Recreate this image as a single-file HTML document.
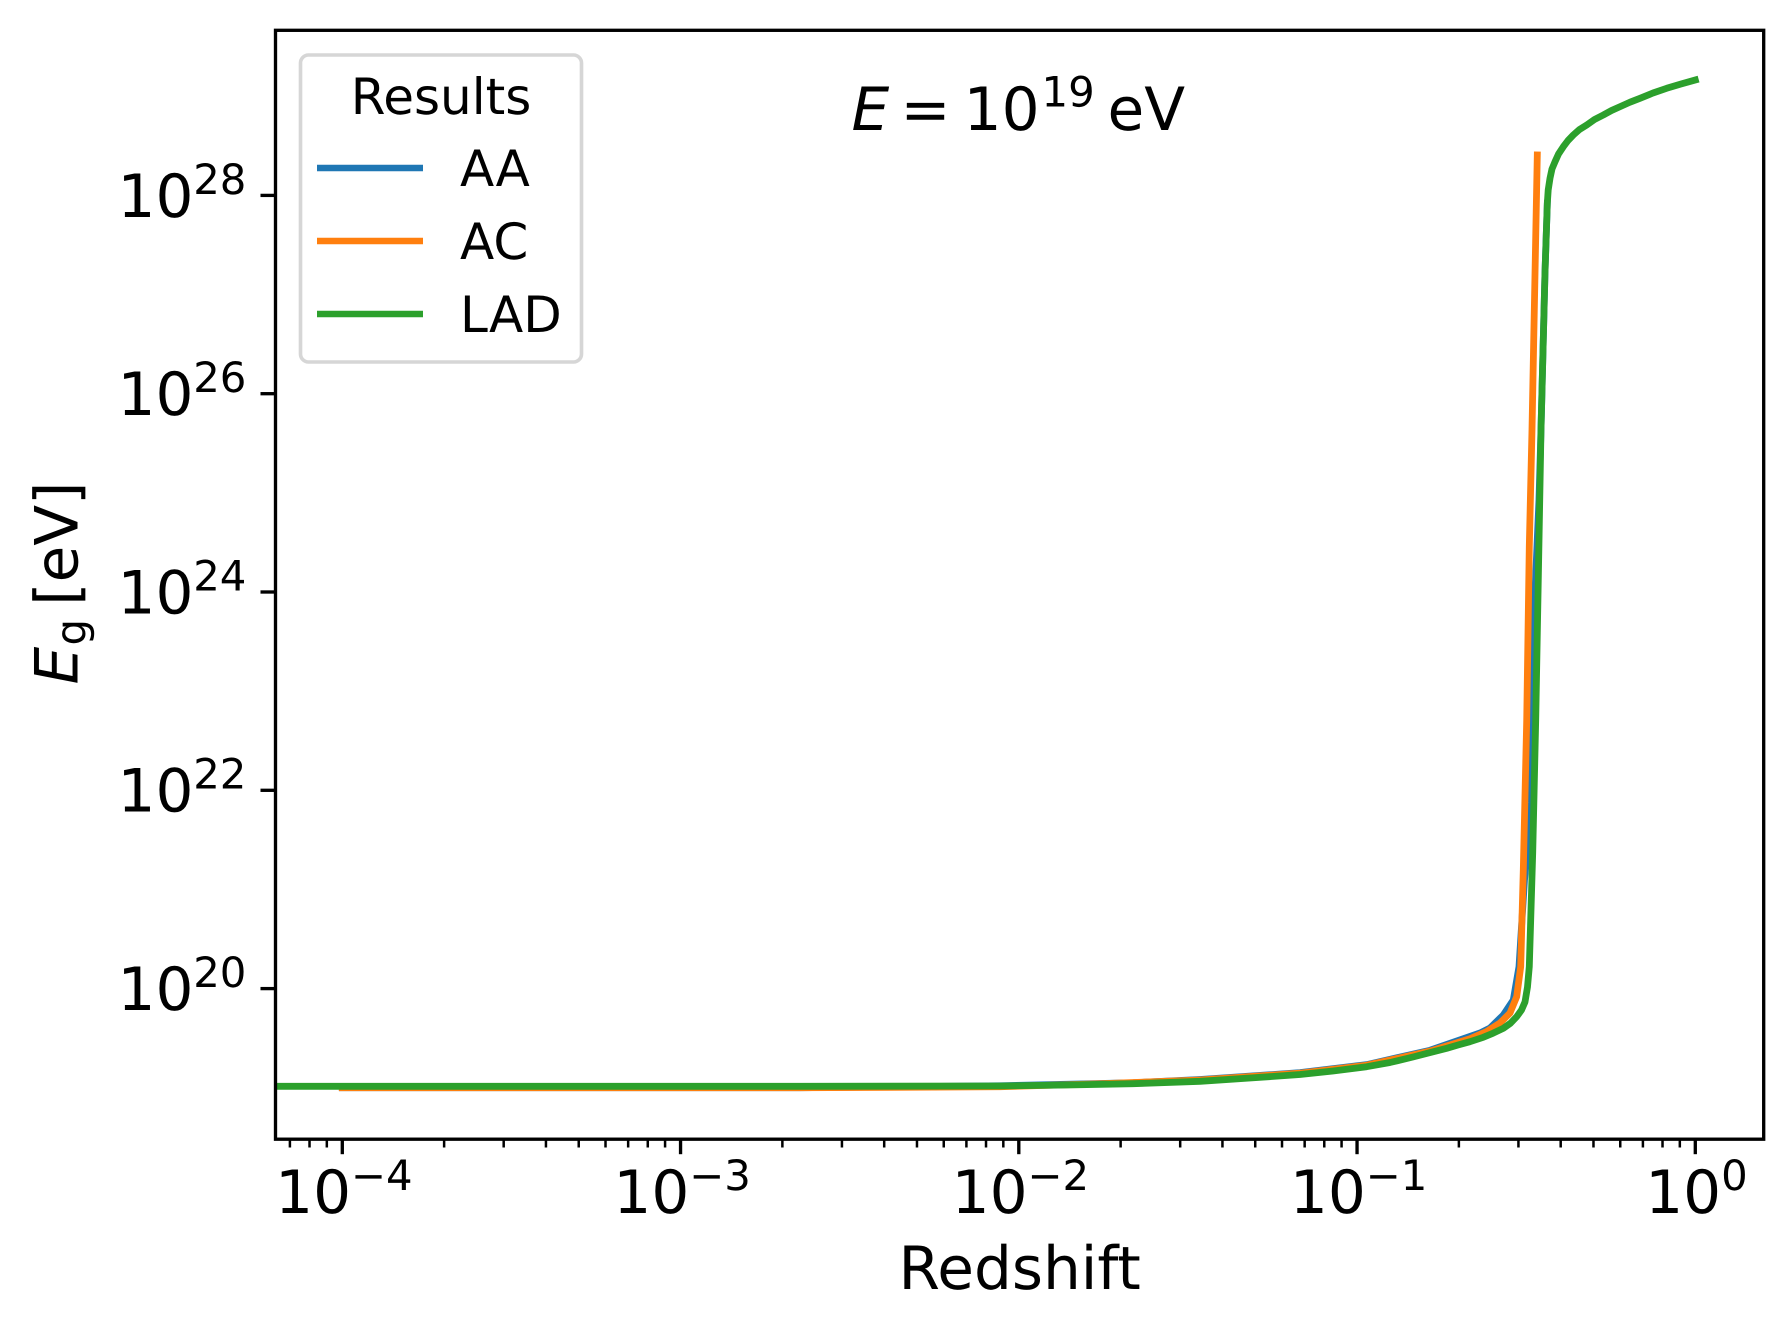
<!DOCTYPE html>
<html lang="en">
<head>
<meta charset="utf-8">
<title>Eg vs Redshift</title>
<style>
html,body{margin:0;padding:0;background:#fff;}
svg{display:block;}
text{font-family:"DejaVu Sans",sans-serif;fill:#000;text-rendering:geometricPrecision;}
</style>
</head>
<body>
<svg id="chart" xmlns="http://www.w3.org/2000/svg" width="1792" height="1333" viewBox="0 0 1792 1333">
<defs><clipPath id="axes-clip"><rect x="275.5" y="30.3" width="1488.2" height="1108.9"></rect></clipPath></defs>
<rect x="0" y="0" width="1792" height="1333" fill="#fff"></rect>
</svg>
<script>
// Data: log10(redshift) and log10(Eg / eV)
const seriesNames = ['AA', 'AC', 'LAD'];
const seriesColors = ['#1f77b4', '#ff7f0e', '#2ca02c'];

const aaLogZ = [-4, -2.6468, -2.0556, -1.6624, -1.4643, -1.1687, -0.9715, -0.7843, -0.6365, -0.6070, -0.5676, -0.5381, -0.5212, -0.5050, -0.4955, -0.4886, -0.4836, -0.4739, -0.4621, -0.4562, -0.4444, -0.4375];
const aaLogE = [19.0, 19.0, 19.02, 19.05, 19.083, 19.152, 19.233, 19.378, 19.5522, 19.6026, 19.7337, 19.885, 20.2209, 21.0953, 21.428, 21.8719, 22.709, 24.0, 24.928, 25.6339, 27.2174, 27.9203];

const acLogZ = [-4, -2.6468, -2.0556, -1.76, -1.4643, -1.1687, -0.9715, -0.7843, -0.6661, -0.6167, -0.5774, -0.5478, -0.5280, -0.5162, -0.5085, -0.4984, -0.4908, -0.4828, -0.4671];
const acLogE = [19.0, 19.0, 19.01, 19.04, 19.0782, 19.1467, 19.2275, 19.3697, 19.4947, 19.5673, 19.653, 19.7539, 19.9183, 20.2209, 21.1962, 22.709, 24.4569, 25.6339, 28.4075];

const ladLogZ = [-4.3, -3, -2.6468, -2.0556, -1.8575, -1.6624, -1.4643, -1.3165, -1.1687, -1.0711, -0.9715, -0.9026, -0.8346, -0.7843, -0.7350, -0.7016, -0.6661, -0.6267, -0.598, -0.5676, -0.5463, -0.5280, -0.5138, -0.5035, -0.4961, -0.4908, -0.4807, -0.4718, -0.4642, -0.4562, -0.4444, -0.4375, -0.4349, -0.4296, -0.4237, -0.4147, -0.4044, -0.3902, -0.3763, -0.3607, -0.3423, -0.3210, -0.2980, -0.2720, -0.2477, -0.2226, -0.1930, -0.1635, -0.1251, -0.0846, -0.0423, 0];
const ladLogE = [19.0146, 19.0146, 19.0146, 19.0177, 19.0277, 19.0408, 19.065, 19.0983, 19.1336, 19.1689, 19.2123, 19.2547, 19.3101, 19.3545, 19.3979, 19.4312, 19.4644, 19.5088, 19.5502, 19.5996, 19.651, 19.7166, 19.7842, 19.8649, 20.0161, 20.2209, 21.3676, 22.709, 24.1211, 25.6339, 27.2174, 27.9203, 28.0545, 28.1725, 28.2663, 28.3399, 28.4176, 28.4912, 28.5537, 28.6092, 28.6647, 28.71, 28.7655, 28.8109, 28.8563, 28.8946, 28.94, 28.9793, 29.0328, 29.0802, 29.1236, 29.1639];

const xTickExponents = [-4, -3, -2, -1, 0];
const yTickExponents = [20, 22, 24, 26, 28];
const minorMultipliers = [2, 3, 4, 5, 6, 7, 8, 9];
const minorDecades = [-5, -4, -3, -2, -1, 0];

const svg = document.getElementById('chart');
const NS = 'http://www.w3.org/2000/svg';
const axesLeft = 275.5, axesRight = 1763.7, axesTop = 30.3, axesBottom = 1139.2;

function xPos(logZ) { return 342.3 + 338.25 * (logZ + 4); }
function yPos(logE) { return 988.6 - 99.15 * (logE - 20); }

function addText(name, str, x, y, size, opts) {
  const el = document.createElementNS(NS, 'text');
  
  
  el.setAttribute('x', x);
  el.setAttribute('y', y);
  el.setAttribute('font-size', size);
  if (opts && opts.anchor) el.setAttribute('text-anchor', opts.anchor);
  if (opts && opts.italic) el.setAttribute('font-style', 'oblique');
  if (opts && opts.rotate) el.setAttribute('transform', 'rotate(-90 ' + x + ' ' + y + ')');
  el.textContent = str;
  svg.appendChild(el);
  return el;
}

function addLine(name, x1, y1, x2, y2, color, width) {
  const el = document.createElementNS(NS, 'line');
  
  
  el.setAttribute('x1', x1);
  el.setAttribute('y1', y1);
  el.setAttribute('x2', x2);
  el.setAttribute('y2', y2);
  el.setAttribute('stroke', color);
  el.setAttribute('stroke-width', width);
  svg.appendChild(el);
  return el;
}

function addSeries(name, xs, ys, color) {
  const el = document.createElementNS(NS, 'polyline');
  
  
  el.setAttribute('points', xs.map(function (v, i) { return xPos(v).toFixed(2) + ',' + yPos(ys[i]).toFixed(2); }).join(' '));
  el.setAttribute('fill', 'none');
  el.setAttribute('stroke', color);
  el.setAttribute('stroke-width', 6.8);
  el.setAttribute('stroke-linejoin', 'round');
  el.setAttribute('stroke-linecap', 'square');
  el.setAttribute('clip-path', 'url(#axes-clip)');
  svg.appendChild(el);
  return el;
}

// Series lines
addSeries('series-aa-line', aaLogZ, aaLogE, seriesColors[0]);
addSeries('series-ac-line', acLogZ, acLogE, seriesColors[1]);
addSeries('series-lad-line', ladLogZ, ladLogE, seriesColors[2]);

// Plot frame
const frame = document.createElementNS(NS, 'rect');


frame.setAttribute('x', axesLeft);
frame.setAttribute('y', axesTop);
frame.setAttribute('width', axesRight - axesLeft);
frame.setAttribute('height', axesBottom - axesTop);
frame.setAttribute('fill', 'none');
frame.setAttribute('stroke', '#000');
frame.setAttribute('stroke-width', 3.33);
svg.appendChild(frame);

// X ticks
minorDecades.forEach(function (d) {
  minorMultipliers.forEach(function (m) {
    const x = xPos(d + Math.log10(m));
    if (x > axesLeft && x < axesRight) {
      addLine('x-minor-tick', x, axesBottom, x, axesBottom + 8.3, '#000', 2.5);
    }
  });
});
xTickExponents.forEach(function (e) {
  const x = xPos(e);
  addLine('x-major-tick', x, axesBottom, x, axesBottom + 15, '#000', 3.33);
  const expStr = e < 0 ? '\u2212' + Math.abs(e) : String(e);
  const expWidth = (e < 0 ? 0.838 + 0.636 : 0.636) * 40.83;
  const start = x - (74.2 + expWidth) / 2;
  addText('x-tick-label-base', '10', start, 1213, 59.7);
  addText('x-tick-label-exponent', expStr, start + 75.9, 1190, 41.8);
});

// Y ticks
yTickExponents.forEach(function (e) {
  const y = yPos(e);
  addLine('y-major-tick', axesLeft, y, axesLeft - 15, y, '#000', 3.33);
  addText('y-tick-label-base', '10', 117.5, y + 21.4, 59.7);
  addText('y-tick-label-exponent', String(e), 193.2, y - 1.6, 41.8);
});

// Axis labels
addText('x-axis-title', 'Redshift', 1019.6, 1289, 59.7, { anchor: 'middle' });
addText('y-axis-title-symbol', 'E', 77.3, 684.5, 59.7, { italic: true, rotate: true });
addText('y-axis-title-subscript', 'g', 85.4, 645.5, 41.8, { rotate: true });
addText('y-axis-title-unit', '[eV]', 77.3, 605.7, 59.7, { rotate: true });

// Annotation
addText('annotation-energy-symbol', 'E', 851.5, 130, 59.7, { italic: true });
addText('annotation-equals', '=', 900.5, 130, 59.7);
addText('annotation-base', '10', 963.6, 130, 59.7);
addText('annotation-exponent', '19', 1041.5, 106.7, 41.8);
addText('annotation-unit', 'eV', 1107.5, 130, 59.7);

// Legend
const legendBox = document.createElementNS(NS, 'rect');


legendBox.setAttribute('x', 300.5);
legendBox.setAttribute('y', 55);
legendBox.setAttribute('width', 281);
legendBox.setAttribute('height', 307);
legendBox.setAttribute('rx', 8);
legendBox.setAttribute('ry', 8);
legendBox.setAttribute('fill', '#fff');
legendBox.setAttribute('fill-opacity', 0.8);
legendBox.setAttribute('stroke', '#d6d6d6');
legendBox.setAttribute('stroke-width', 3.6);
svg.appendChild(legendBox);

addText('legend-title', 'Results', 441, 114, 50, { anchor: 'middle' });
const legendRowsY = [168, 241, 314];
const legendTextY = [186, 259, 332];
seriesNames.forEach(function (name, i) {
  addLine('legend-line-' + name.toLowerCase(), 317, legendRowsY[i], 423, legendRowsY[i], seriesColors[i], 6.5);
  addText('legend-label-' + name.toLowerCase(), name, 460, legendTextY[i], 50);
});
</script>
</body>
</html>
